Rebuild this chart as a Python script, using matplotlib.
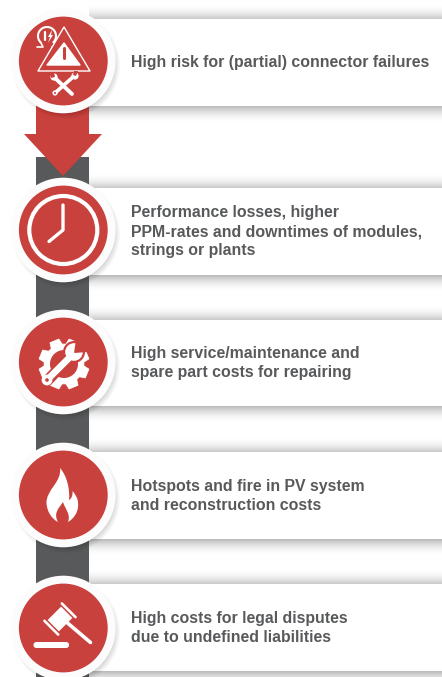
import numpy as np
import matplotlib
matplotlib.use('Agg')
import matplotlib.pyplot as plt
from matplotlib.patches import Arc, Circle, Polygon, Rectangle, PathPatch, FancyBboxPatch
from matplotlib.path import Path
from matplotlib.transforms import Affine2D

W, H = 442, 677
RED = '#c8413d'
DARK = '#58595b'

card_tops = [19, 188, 320, 452, 584]
card_bottoms = [106, 275, 406, 539, 671]
circle_ys = [61, 230, 362, 495, 628]
card_texts = [
    'High risk for (partial) connector failures',
    'Performance losses, higher\nPPM-rates and downtimes of modules,\nstrings or plants',
    'High service/maintenance and\nspare part costs for repairing',
    'Hotspots and fire in PV system\nand reconstruction costs',
    'High costs for legal disputes\ndue to undefined liabilities',
]

fig = plt.figure(figsize=(W / 100, H / 100), dpi=100)
ax = fig.add_axes([0, 0, 1, 1])
ax.set_xlim(0, W)
ax.set_ylim(H, 0)
ax.axis('off')


def gradient(y0, y1, a0, a1):
    # soft grey band, a0 at y0 fading to a1 at y1
    t = np.linspace(0, 1, 40)
    if a0 > a1:
        alpha = a0 * (1 - t) ** 2
    else:
        alpha = a1 * t ** 2
    img = np.zeros((40, 1, 4))
    img[..., :3] = 0.35
    img[..., 3] = alpha.reshape(-1, 1)
    ax.imshow(img, extent=[89, W, y1, y0], aspect='auto', zorder=1, interpolation='bilinear')


def white_line(pts, lw=1, color='white', z=6):
    xs, ys = zip(*pts)
    ax.plot(xs, ys, color=color, lw=lw, solid_capstyle='round', zorder=z)


# cards and their shadows
for top, bottom in zip(card_tops, card_bottoms):
    gradient(top - 16, top, 0.0, 0.32)
    gradient(bottom, bottom + 18, 0.42, 0.0)
    ax.add_patch(Rectangle((89, top), W - 89, bottom - top, fc='white', ec='none', zorder=2))
ax.set_xlim(0, W)
ax.set_ylim(H, 0)

# dark band and arrow
ax.add_patch(Rectangle((36, 157), 53, H - 157, fc=DARK, ec='none', zorder=2))
ax.add_patch(Polygon([(36, 105), (89, 105), (89, 134), (102, 134), (63, 176),
                      (24, 134), (36, 134)], fc=RED, ec='none', zorder=3))

# circles
for cy in circle_ys:
    for i in range(8):
        ax.add_patch(Circle((66, cy + 4), 54 - i * 0.8, fc='black', alpha=0.02, ec='none', zorder=4))
    ax.add_patch(Circle((63.3, cy), 52.3, fc='#fcfcfc', ec='none', zorder=4.5))
    ax.add_patch(Circle((63.3, cy), 44.4, fc=RED, ec='none', zorder=5))

# texts
for top, bottom, txt in zip(card_tops, card_bottoms, card_texts):
    ax.text(131, (top + bottom) / 2 + 0.3, txt, fontsize=11.4, fontweight='bold', family='Liberation Sans',
            color='#58595b', va='center', ha='left', linespacing=1.33, zorder=7)

# icon 1: ohm sign, warning triangle, tools
ax.add_patch(Arc((47, 36), 18, 18, theta1=130, theta2=50, ec='white', lw=1.5, zorder=5.5))
white_line([(37, 47), (43, 47), (41, 43)], lw=1.2, z=5.5)
white_line([(52, 47), (58, 47)], lw=1.2, z=5.5)
white_line([(45, 32), (45, 40)], lw=1.6, z=5.5)
ax.add_patch(Polygon([(52, 30), (48, 37), (50, 37), (48, 43), (53, 35), (51, 35)], fc='white', ec='none', zorder=5.5))
ax.add_patch(Polygon([(64, 27), (90, 71), (38, 71)], closed=True, fc=RED, ec='white', lw=1, joinstyle='round', zorder=6))
ax.add_patch(Polygon([(64, 43), (80, 65), (47, 65)], closed=True, fc='white', ec='white', lw=1, joinstyle='round', zorder=6))
white_line([(64, 48), (64, 58)], lw=2.2, color=RED, z=7)
white_line([(64, 62.5), (64, 63)], lw=2.2, color=RED, z=7)
# wrench and spanner, crossed
white_line([(55, 93), (73, 77)], lw=2.6)
white_line([(72, 94), (55, 78)], lw=2.8)
ax.add_patch(Circle((75, 76), 3.6, fc='white', ec='none', zorder=6))
ax.add_patch(Polygon([(74, 71), (78, 71), (76, 76), (73, 75)], fc=RED, ec='none', zorder=7))
ax.add_patch(Circle((54, 77), 3.6, fc='white', ec='none', zorder=6))
ax.add_patch(Polygon([(50, 73), (54, 72), (55, 77), (51, 78)], fc=RED, ec='none', zorder=7))
ax.add_patch(Circle((55, 93), 2.6, fc='white', ec='none', zorder=6))
ax.add_patch(Circle((55, 93), 1, fc=RED, ec='none', zorder=7))

# icon 2: clock
ax.add_patch(Circle((63.3, 230), 34, fc='none', ec='white', lw=3, zorder=6))
white_line([(63, 205), (63, 230), (49, 241.5)], lw=2.4)

# icon 3: gear and wrench
gx, gy = 64, 364
n_teeth = 8
gear = []
for k in range(n_teeth):
    a = 2 * np.pi * k / n_teeth + np.pi / 8
    for da, r in [(-0.30, 20), (-0.19, 25.5), (0.19, 25.5), (0.30, 20)]:
        gear.append((gx + r * np.cos(a + da), gy + r * np.sin(a + da)))
ax.add_patch(Polygon(gear, fc='white', ec='white', lw=0.5, joinstyle='round', zorder=6))
ax.add_patch(Circle((gx, gy), 14, fc=RED, ec='none', zorder=6))
white_line([(47, 381), (72, 355)], lw=8, color=RED, z=6.2)
ax.add_patch(Circle((74, 352), 11, fc=RED, ec='none', zorder=6.2))
ax.add_patch(Circle((47, 380), 5.4, fc='white', ec='none', zorder=6.3))
ax.add_patch(Circle((47, 380), 1.8, fc=RED, ec='none', zorder=6.5))
ax.add_patch(Circle((74, 352), 8.8, fc='white', ec='none', zorder=6.3))
ax.add_patch(Polygon([(74, 353), (76, 340), (88, 352)], fc=RED, ec='none', zorder=6.35))
white_line([(50, 377), (72, 355)], lw=4.8, z=6.4)

# icon 4: flame
flame = [
    (Path.MOVETO, (60, 468)),
    (Path.CURVE4, (62, 482)), (Path.CURVE4, (46, 490)), (Path.CURVE4, (46.5, 503)),
    (Path.CURVE4, (47, 512)), (Path.CURVE4, (52, 519)), (Path.CURVE4, (58, 522)),
    (Path.CURVE4, (53, 513)), (Path.CURVE4, (59, 508)), (Path.CURVE4, (63, 502)),
    (Path.CURVE4, (65, 509)), (Path.CURVE4, (71, 514)), (Path.CURVE4, (68, 522)),
    (Path.CURVE4, (75, 518)), (Path.CURVE4, (79, 510)), (Path.CURVE4, (78, 503)),
    (Path.CURVE4, (78, 498)), (Path.CURVE4, (75, 494)), (Path.CURVE4, (72.5, 491)),
    (Path.CURVE4, (73, 496)), (Path.CURVE4, (71, 499)), (Path.CURVE4, (69, 500)),
    (Path.CURVE4, (70, 489)), (Path.CURVE4, (67, 476)), (Path.CURVE4, (60, 468)),
    (Path.CLOSEPOLY, (60, 468)),
]
codes, verts = zip(*flame)
ax.add_patch(PathPatch(Path(verts, codes), fc='white', ec='none', zorder=6))

# icon 5: gavel
rot = Affine2D().rotate_deg_around(60, 619, 45) + ax.transData
ax.add_patch(Rectangle((52, 609.5), 16, 19, fc='white', ec='none', transform=rot, zorder=6))
ax.add_patch(FancyBboxPatch((49.5, 605.8), 21, 1.8, boxstyle='round,pad=0.4,rounding_size=1.2', fc='white', ec='none',
                            transform=rot, zorder=6))
ax.add_patch(FancyBboxPatch((49.5, 630.4), 21, 1.8, boxstyle='round,pad=0.4,rounding_size=1.2', fc='white', ec='none',
                            transform=rot, zorder=6))
white_line([(67, 622.5), (90.5, 642.5)], lw=2.6)
ax.add_patch(FancyBboxPatch((34, 642.5), 34.5, 5, boxstyle='round,pad=0.5,rounding_size=2.8', fc='white', ec='none', zorder=6))

fig.savefig('out.png', dpi=100, facecolor='white')
